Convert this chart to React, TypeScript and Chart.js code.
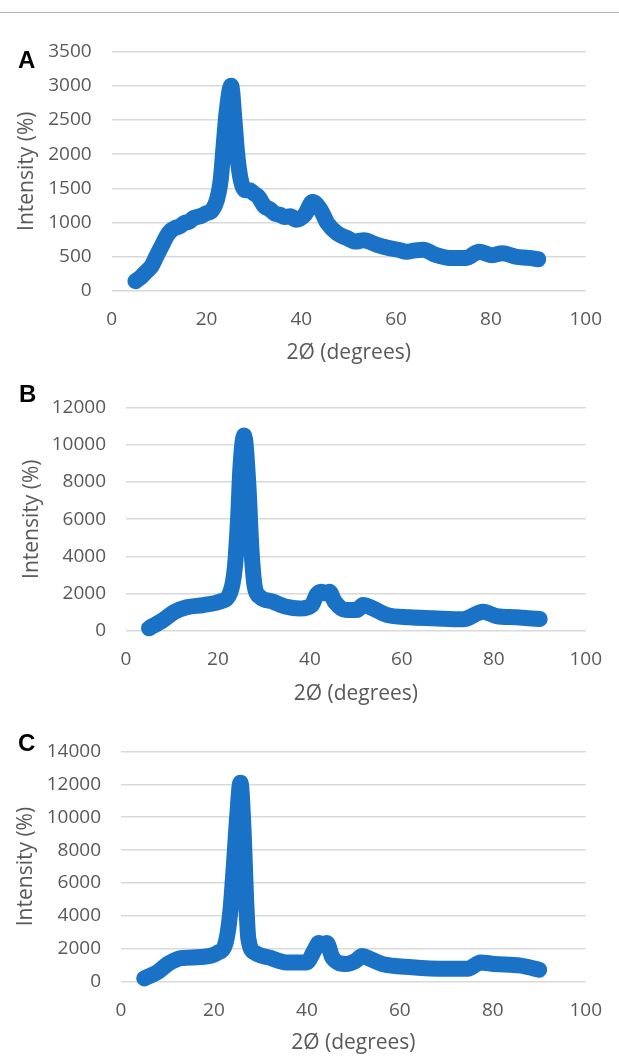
import React, { useEffect, useRef } from "react";
import { Chart, registerables } from "chart.js";

Chart.register(...registerables);

// ---- Data ----
const angleA = [5, 6.2, 7.3, 8.4, 9.4, 10.8, 11.6, 12.5, 13.4, 14.3, 15.3, 16.3, 17.2, 18.1, 19.0, 19.8, 21.2, 22.2, 23.0, 23.6, 24.3, 25.2, 25.9, 26.4, 27.1, 28.2, 29.1, 29.9, 30.9, 32.3, 33.4, 34.4, 35.5, 36.5, 37.7, 38.9, 40.7, 42.4, 44.1, 45.5, 47.6, 49.7, 51.4, 53.2, 56.0, 58.8, 60.5, 62.2, 64.0, 65.7, 68.5, 71.3, 74.8, 77.5, 80.3, 82.4, 85.2, 88.0, 90];
const intensityA = [140, 200, 280, 360, 500, 690, 800, 880, 920, 940, 990, 1010, 1060, 1080, 1100, 1130, 1180, 1330, 1620, 2110, 2650, 3000, 2500, 2060, 1670, 1470, 1470, 1430, 1380, 1230, 1190, 1130, 1110, 1080, 1090, 1040, 1110, 1300, 1180, 990, 840, 770, 720, 740, 670, 620, 600, 570, 590, 600, 520, 480, 480, 570, 520, 550, 500, 480, 460];

const angleB = [5, 8.1, 10.6, 13.2, 16.8, 20.4, 22.6, 23.7, 24.4, 24.9, 25.7, 26.6, 27.3, 28.0, 29.1, 32.0, 34.9, 37.8, 40.4, 41.5, 42.5, 43.5, 44.2, 45.4, 47.9, 50.2, 51.6, 53.7, 56.7, 61.7, 66.8, 73.3, 77.7, 80.6, 84.9, 90];
const intensityB = [130, 580, 1020, 1260, 1380, 1560, 2010, 3440, 6130, 8820, 10500, 7930, 4340, 2370, 1830, 1560, 1290, 1200, 1380, 1950, 2100, 2000, 2100, 1560, 1110, 1110, 1380, 1200, 850, 720, 670, 610, 1020, 790, 720, 630];

const angleC = [5, 7.9, 10.1, 12.9, 17.2, 20.7, 22.5, 23.5, 24.3, 25.0, 25.7, 26.4, 26.9, 27.4, 28.9, 32.0, 35.6, 39.9, 41.6, 42.6, 43.5, 44.3, 45.5, 48.4, 50.5, 51.9, 53.7, 56.2, 62.6, 69.6, 74.6, 77.4, 80.3, 86.0, 90];
const intensityC = [200, 590, 1080, 1430, 1500, 1750, 2340, 4190, 7120, 10040, 12100, 9070, 5170, 2630, 1750, 1460, 1170, 1170, 1900, 2350, 2250, 2350, 1460, 1080, 1270, 1560, 1370, 1080, 880, 780, 780, 1170, 1080, 980, 730];

const xTickValues = [0, 20, 40, 60, 80, 100];
const yTicksA = [0, 500, 1000, 1500, 2000, 2500, 3000, 3500];
const yTicksB = [0, 2000, 4000, 6000, 8000, 10000, 12000];
const yTicksC = [0, 2000, 4000, 6000, 8000, 10000, 12000, 14000];

const panelLetters = ["A", "B", "C"];
const xAxisTitle = "2Ø (degrees)";
const yAxisTitle = "Intensity (%)";

// ---- Layout (canvas-local pixels) ----
const layouts = [
  { top: 0, height: 370, left: 111.7, right: 591, areaTop: 51.7, areaBottom: 290.7, yTitlePad: 14, xTitlePad: 4.4, letterX: 18, letterBase: 68.3 },
  { top: 370, height: 350, left: 126, right: 586, areaTop: 37.7, areaBottom: 260.7, yTitlePad: 19, xTitlePad: 13.4, letterX: 19, letterBase: 31.7 },
  { top: 720, height: 337, left: 121, right: 591, areaTop: 22.3, areaBottom: 261.7, yTitlePad: 13, xTitlePad: 1.4, letterX: 18, letterBase: 30.7 },
];

const W = 619;
const TEXT = "#595959";
const GRID = "#d9d9d9";
const LINE = "#1a72c6";
const FONT = "'Open Sans', 'Liberation Sans', sans-serif";

function Panel({ idx, xs, ys, yTicks }: { idx: number; xs: number[]; ys: number[]; yTicks: number[] }) {
  const ref = useRef<HTMLCanvasElement | null>(null);
  const L = layouts[idx];
  useEffect(() => {
    if (!ref.current) return;
    const letter = panelLetters[idx];
    const letterPlugin = {
      id: "panelLetter" + idx,
      afterDraw(chart: any) {
        const ctx = chart.ctx;
        ctx.save();
        ctx.font = "bold 24px 'Liberation Sans', Arial, sans-serif";
        ctx.fillStyle = "#000000";
        ctx.textBaseline = "alphabetic";
        ctx.textAlign = "left";
        ctx.fillText(letter, L.letterX, L.letterBase);
        ctx.restore();
      },
    };
    const chart = new Chart(ref.current, {
      type: "scatter",
      data: {
        datasets: [
          {
            data: xs.map((x, i) => ({ x, y: ys[i] })),
            showLine: true,
            borderColor: LINE,
            backgroundColor: LINE,
            borderWidth: 16,
            borderCapStyle: "round",
            borderJoinStyle: "round",
            pointRadius: 0,
            pointHoverRadius: 0,
            cubicInterpolationMode: "monotone",
            clip: false,
          } as any,
        ],
      },
      options: {
        responsive: false,
        animation: false,
        devicePixelRatio: 1,
        events: [],
        layout: {
          padding: { left: 0, top: L.areaTop, right: W - L.right, bottom: 0 },
        },
        plugins: { legend: { display: false }, tooltip: { enabled: false }, title: { display: false } },
        scales: {
          x: {
            type: "linear",
            min: 0,
            max: 100,
            afterBuildTicks: (s: any) => {
              s.ticks = xTickValues.map((v) => ({ value: v }));
            },
            afterFit: (s: any) => {
              s.height = L.height - L.areaBottom;
            },
            grid: { display: false, drawTicks: false },
            border: { display: false },
            ticks: {
              color: TEXT,
              font: { family: FONT, size: 19 },
              padding: 17,
              maxRotation: 0,
              autoSkip: false,
              callback: (v: any) => String(v),
            },
            title: {
              display: true,
              text: xAxisTitle,
              color: TEXT,
              font: { family: FONT, size: 21 },
              padding: { top: 0, bottom: L.xTitlePad },
            },
          },
          y: {
            type: "linear",
            min: yTicks[0],
            max: yTicks[yTicks.length - 1],
            afterBuildTicks: (s: any) => {
              s.ticks = yTicks.map((v) => ({ value: v }));
            },
            afterFit: (s: any) => {
              s.width = L.left;
            },
            grid: { color: GRID, lineWidth: 1.5, drawTicks: false },
            border: { display: false },
            ticks: {
              color: TEXT,
              font: { family: FONT, size: 19 },
              padding: 20,
              autoSkip: false,
              callback: (v: any) => String(v),
            },
            title: {
              display: true,
              text: yAxisTitle,
              color: TEXT,
              font: { family: FONT, size: 21 },
              padding: { top: L.yTitlePad, bottom: 0 },
            },
          },
        },
      } as any,
      plugins: [letterPlugin],
    });
    return () => chart.destroy();
  }, []);
  return (
    <canvas
      ref={ref}
      width={W}
      height={L.height}
      style={{ position: "absolute", left: 0, top: L.top, width: W, height: L.height, display: "block" }}
    />
  );
}

export default function App() {
  return (
    <div style={{ position: "absolute", left: 0, top: 0, width: W, height: 1057, background: "#ffffff", overflow: "hidden" }}>
      <div style={{ position: "absolute", left: 0, top: 12, width: W, height: 1, background: "#b4b4b4" }} />
      <Panel idx={0} xs={angleA} ys={intensityA} yTicks={yTicksA} />
      <Panel idx={1} xs={angleB} ys={intensityB} yTicks={yTicksB} />
      <Panel idx={2} xs={angleC} ys={intensityC} yTicks={yTicksC} />
    </div>
  );
}
